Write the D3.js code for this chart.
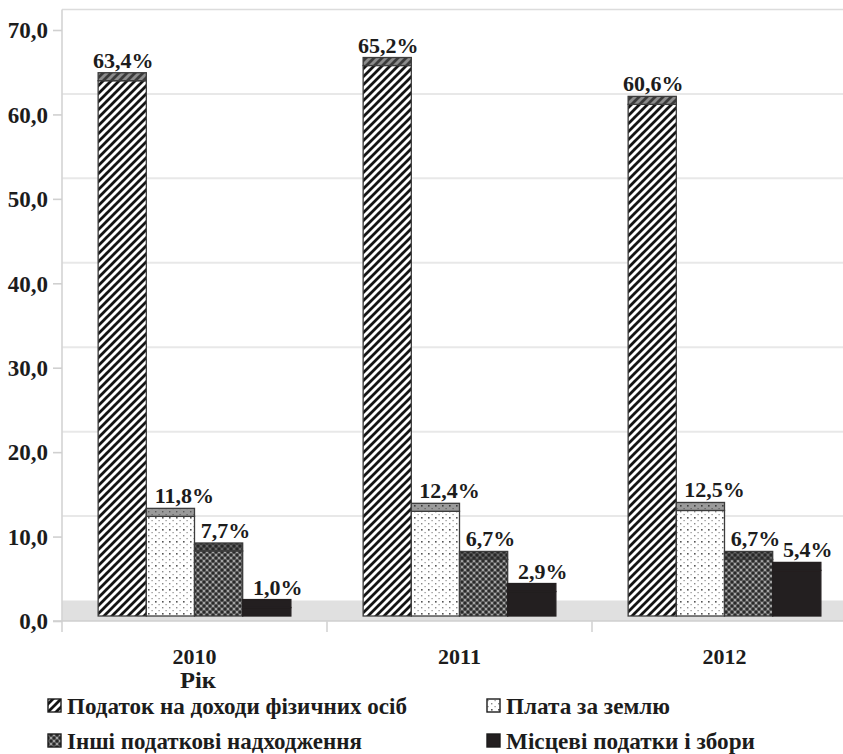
<!DOCTYPE html>
<html>
<head>
<meta charset="utf-8">
<script src="https://cdn.jsdelivr.net/npm/d3@7"></script>
<style>
  body { margin: 0; background: #fff; }
  svg { display: block; }
  text { font-family: "Liberation Serif", "Times New Roman", serif; font-weight: bold; fill: #1c1c1c; }
</style>
</head>
<body>
<svg id="chart" width="843" height="754"></svg>
<script>
// Структура податкових надходжень місцевих бюджетів, %
const years = ["2010", "2011", "2012"];
const seriesNames = [
  "Податок на доходи фізичних осіб",
  "Плата за землю",
  "Інші податкові надходження",
  "Місцеві податки і збори"
];
const pdfoShare = [63.4, 65.2, 60.6];
const landFee = [11.8, 12.4, 12.5];
const otherTaxes = [7.7, 6.7, 6.7];
const localFees = [1.0, 2.9, 5.4];
const yTicks = [0, 10, 20, 30, 40, 50, 60, 70];
const xAxisTitle = "Рік";

const seriesValues = [pdfoShare, landFee, otherTaxes, localFees];

const svg = d3.select("#chart");
const W = 843;

// 3D-like frame: front edge of the floor carries the axis, back wall carries the grid
const plotLeft = 62, plotRight = 857;
const yFront = d3.scaleLinear().domain([0, 70]).range([621, 30]);
const yBack = d3.scaleLinear().domain([0, 70]).range([600.5, 9.5]);
const yBar = d3.scaleLinear().domain([0, 70]).range([616, 25]);
const capDepth = 8;

const x0 = d3.scaleBand().domain(years).range([plotLeft, plotRight]).paddingInner(0).paddingOuter(0);
const x1 = d3.scaleBand().domain(d3.range(seriesNames.length)).range([0, x0.bandwidth()]).paddingInner(0).paddingOuter(0.75);

// ---------- fill patterns ----------
const defs = svg.append("defs");

function hatch(id, bg, fg) {
  const p = defs.append("pattern").attr("id", id).attr("patternUnits", "userSpaceOnUse")
    .attr("width", 8).attr("height", 8);
  p.append("rect").attr("width", 8).attr("height", 8).attr("fill", bg);
  p.append("path").attr("d", "M0,8 L8,0 M-2,2 L2,-2 M6,10 L10,6")
    .attr("stroke", fg).attr("stroke-width", 2.8);
}
function dots(id, bg, fg, fg2) {
  const p = defs.append("pattern").attr("id", id).attr("patternUnits", "userSpaceOnUse")
    .attr("width", 7).attr("height", 12);
  p.append("rect").attr("width", 7).attr("height", 12).attr("fill", bg);
  p.append("rect").attr("x", 1).attr("y", 1).attr("width", 1.6).attr("height", 1.6).attr("fill", fg);
  p.append("rect").attr("x", 1).attr("y", 7).attr("width", 1.4).attr("height", 1.4).attr("fill", fg2);
  p.append("rect").attr("x", 4.5).attr("y", 4).attr("width", 1.2).attr("height", 1.2).attr("fill", fg2);
  p.append("rect").attr("x", 4.5).attr("y", 10).attr("width", 1.2).attr("height", 1.2).attr("fill", fg2);
}
function lattice(id, bg, dark, light) {
  const p = defs.append("pattern").attr("id", id).attr("patternUnits", "userSpaceOnUse")
    .attr("width", 6).attr("height", 6);
  p.append("rect").attr("width", 6).attr("height", 6).attr("fill", bg);
  [[0, 0], [6, 0], [0, 6], [6, 6], [3, 3]].forEach(([cx, cy]) =>
    p.append("circle").attr("cx", cx).attr("cy", cy).attr("r", 1.5).attr("fill", dark));
  [[3, 0], [0, 3], [6, 3], [3, 6]].forEach(([cx, cy]) =>
    p.append("circle").attr("cx", cx).attr("cy", cy).attr("r", 0.9).attr("fill", light));
}
hatch("f0", "#ffffff", "#141414");
hatch("c0", "#8c8c8c", "#3a3a3a");
dots("f1", "#ffffff", "#555555", "#8a8a8a");
dots("c1", "#9a9a9a", "#3c3c3c", "#5a5a5a");
lattice("f2", "#666666", "#2a2a2a", "#c0c0c0");
lattice("c2", "#4a4a4a", "#262626", "#777777");
const fills = ["url(#f0)", "url(#f1)", "url(#f2)", "#231f20"];
const capFills = ["url(#c0)", "url(#c1)", "url(#c2)", "#231f20"];
const strokes = ["#3c3c3c", "#3c3c3c", "#3c3c3c", "#231f20"];

// ---------- back wall grid, floor, axes ----------
const grid = svg.append("g");
grid.selectAll("line").data(yTicks.filter(t => t > 0 && t < 70)).join("line")
  .attr("x1", plotLeft).attr("x2", W)
  .attr("y1", d => yBack(d)).attr("y2", d => yBack(d))
  .attr("stroke", "#e8e8e8").attr("stroke-width", 2);

svg.append("line").attr("x1", plotLeft).attr("x2", W)
  .attr("y1", yBack(70)).attr("y2", yBack(70))
  .attr("stroke", "#dcdcdc").attr("stroke-width", 1.6);

svg.append("rect").attr("x", plotLeft).attr("y", yBack(0))
  .attr("width", W - plotLeft).attr("height", yFront(0) - yBack(0))
  .attr("fill", "#e0e0e0");

svg.append("line").attr("x1", plotLeft).attr("x2", plotLeft)
  .attr("y1", yBack(70)).attr("y2", yFront(0) + 11)
  .attr("stroke", "#d4d4d4").attr("stroke-width", 1.6);

svg.append("line").attr("x1", plotLeft - 9).attr("x2", W)
  .attr("y1", yFront(0)).attr("y2", yFront(0))
  .attr("stroke", "#cfcfcf").attr("stroke-width", 1.6);

const yAxis = d3.axisLeft(yFront).tickValues(yTicks).tickSize(9).tickPadding(5)
  .tickFormat(d => d3.format(".1f")(d).replace(".", ","));
const yAxisG = svg.append("g").attr("transform", `translate(${plotLeft},0)`).call(yAxis);
yAxisG.select(".domain").remove();
yAxisG.selectAll(".tick line").attr("stroke", "#d0d0d0").attr("stroke-width", 1.6);
yAxisG.selectAll(".tick text").attr("font-size", 23).attr("font-family", null)
  .style("fill", "#1c1c1c").attr("dy", "0.34em");

const xAxis = d3.axisBottom(x0).tickSize(0).tickPadding(0);
const xAxisG = svg.append("g").attr("transform", `translate(0,${yFront(0)})`).call(xAxis);
xAxisG.select(".domain").remove();
xAxisG.selectAll(".tick text").attr("font-size", 22).attr("font-family", null)
  .style("fill", "#1c1c1c").attr("y", 43).attr("dy", 0);

// category separators below the floor
svg.append("g").selectAll("line").data(years.slice(1)).join("line")
  .attr("x1", d => x0(d)).attr("x2", d => x0(d))
  .attr("y1", yFront(0)).attr("y2", yFront(0) + 11)
  .attr("stroke", "#d4d4d4").attr("stroke-width", 1.6);

// ---------- bars ----------
const cells = [];
seriesValues.forEach((vals, s) => vals.forEach((v, i) => cells.push({ s, year: years[i], v })));

const bars = svg.append("g");
bars.selectAll("rect.front").data(cells).join("rect").attr("class", "front")
  .attr("x", d => x0(d.year) + x1(d.s)).attr("width", x1.bandwidth())
  .attr("y", d => yBar(d.v)).attr("height", d => yBar(0) - yBar(d.v))
  .attr("fill", d => fills[d.s]).attr("stroke", d => strokes[d.s]).attr("stroke-width", 1.3);

bars.selectAll("rect.cap").data(cells).join("rect").attr("class", "cap")
  .attr("x", d => x0(d.year) + x1(d.s)).attr("width", x1.bandwidth())
  .attr("y", d => yBar(d.v) - capDepth).attr("height", capDepth)
  .attr("fill", d => capFills[d.s]).attr("stroke", d => strokes[d.s]).attr("stroke-width", 1.3);

// value labels sit above the back edge of each bar top
const labelNudge = [1, 14, 7, 11];
svg.append("g").selectAll("text").data(cells).join("text")
  .attr("x", d => x0(d.year) + x1(d.s) + x1.bandwidth() / 2 + labelNudge[d.s])
  .attr("y", d => yBar(d.v) - capDepth - 5)
  .attr("text-anchor", "middle").attr("font-size", 22)
  .text(d => d3.format(".1f")(d.v).replace(".", ",") + "%");

// ---------- axis title and legend ----------
svg.append("text").attr("x", 198).attr("y", 688).attr("text-anchor", "middle")
  .attr("font-size", 23).attr("textLength", 36).attr("lengthAdjust", "spacingAndGlyphs")
  .text(xAxisTitle);

const legendPos = [
  { x: 48, y: 706, w: 340 },
  { x: 487, y: 706, w: 164 },
  { x: 48, y: 741, w: 295 },
  { x: 487, y: 741, w: 249 }
];
const legend = svg.append("g");
seriesNames.forEach((name, s) => {
  const p = legendPos[s];
  legend.append("rect").attr("x", p.x).attr("y", p.y - 7).attr("width", 13).attr("height", 13)
    .attr("fill", fills[s]).attr("stroke", "#1c1c1c").attr("stroke-width", 1.4);
  legend.append("text").attr("x", p.x + 19).attr("y", p.y + 7.5)
    .attr("font-size", 23).attr("textLength", p.w).attr("lengthAdjust", "spacingAndGlyphs")
    .text(name);
});
</script>
</body>
</html>
